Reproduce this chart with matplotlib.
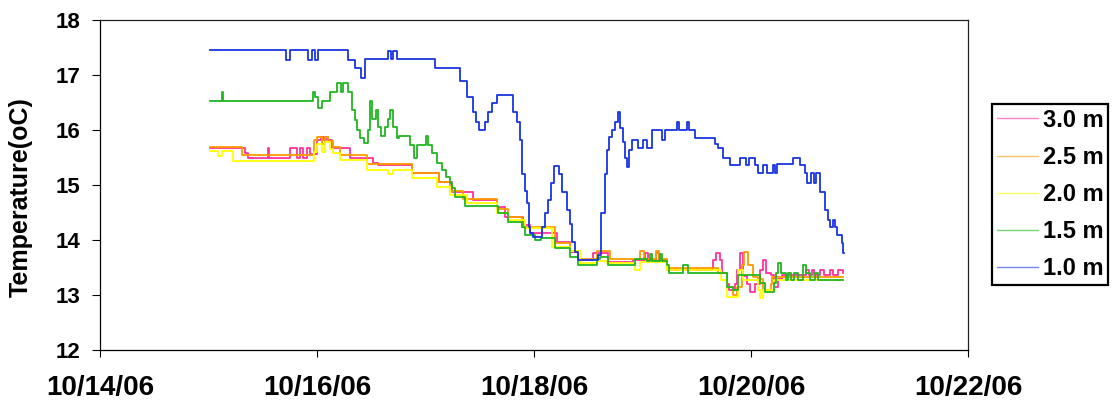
import datetime as dt
import matplotlib
matplotlib.use('Agg')
import matplotlib.pyplot as plt

plt.rcParams['font.family'] = ['Liberation Sans', 'DejaVu Sans']
plt.rcParams['font.weight'] = 'bold'

###############################################################################
# Data: time in days after 10/14/06 00:00, temperature in oC (step readings)
###############################################################################
BASE = dt.datetime(2006, 10, 14)

t_30 = [1.01, 1.34, 1.36, 1.55, 1.56, 1.75, 1.82, 1.84, 1.87, 1.91, 1.94, 2.00,
        2.04, 2.06, 2.08, 2.10, 2.14, 2.30, 2.52, 2.56, 2.88, 3.12, 3.24, 3.44,
        3.66, 3.73, 3.90, 3.96, 4.21, 4.33, 4.41, 4.54, 4.68, 4.91, 5.02, 5.05,
        5.12, 5.15, 5.23, 5.65, 5.68, 5.71, 5.73, 5.78, 5.80, 5.85, 5.87, 5.90,
        5.93, 5.96, 5.99, 6.04, 6.08, 6.11, 6.14, 6.18, 6.21, 6.25, 6.29, 6.51,
        6.53, 6.56, 6.58, 6.64, 6.67, 6.73, 6.76, 6.80, 6.85]
v_30 = [15.68, 15.58, 15.50, 15.68, 15.50, 15.68, 15.50, 15.68, 15.50, 15.68,
        15.56, 15.82, 15.87, 15.82, 15.87, 15.82, 15.67, 15.50, 15.40, 15.36,
        15.21, 15.05, 14.87, 14.73, 14.60, 14.42, 14.27, 14.13, 13.97, 13.79,
        13.64, 13.77, 13.60, 13.64, 13.77, 13.64, 13.77, 13.64, 13.45, 13.64,
        13.77, 13.64, 13.40, 13.20, 13.10, 13.20, 13.45, 13.76, 13.35, 13.20,
        13.05, 13.20, 13.45, 13.64, 13.40, 13.36, 13.15, 13.30, 13.36, 13.45,
        13.36, 13.45, 13.36, 13.45, 13.36, 13.45, 13.36, 13.45, 13.40]

t_25 = [1.01, 1.31, 1.97, 2.00, 2.05, 2.07, 2.10, 2.15, 2.21, 2.46, 2.88, 3.12,
        3.23, 3.35, 3.66, 3.76, 3.89, 4.19, 4.33, 4.41, 4.58, 4.70, 4.98, 5.01,
        5.12, 5.15, 5.23, 5.70, 5.78, 5.83, 5.87, 5.92, 5.94, 5.97, 6.02, 6.06,
        6.11, 6.18, 6.19, 6.85]
v_25 = [15.70, 15.55, 15.82, 15.87, 15.75, 15.87, 15.80, 15.70, 15.55, 15.39,
        15.21, 15.05, 14.90, 14.74, 14.57, 14.42, 14.24, 13.95, 13.80, 13.65,
        13.80, 13.65, 13.80, 13.65, 13.80, 13.65, 13.49, 13.40, 13.15, 13.00,
        13.15, 13.55, 13.78, 13.55, 13.33, 13.30, 13.10, 13.20, 13.33, 13.33]

t_20 = [1.01, 1.09, 1.12, 1.23, 1.97, 2.00, 2.05, 2.07, 2.12, 2.15, 2.21, 2.46,
        2.65, 2.70, 2.88, 3.11, 3.23, 3.38, 3.66, 3.76, 3.92, 4.17, 4.33, 4.42,
        4.58, 4.67, 4.93, 4.98, 5.23, 5.72, 5.78, 5.88, 5.93, 6.06, 6.08, 6.11,
        6.21, 6.85]
v_20 = [15.62, 15.52, 15.62, 15.44, 15.60, 15.75, 15.60, 15.78, 15.65, 15.58,
        15.45, 15.27, 15.20, 15.27, 15.12, 14.97, 14.82, 14.67, 14.49, 14.36,
        14.22, 13.88, 13.80, 13.58, 13.62, 13.58, 13.45, 13.60, 13.45, 13.27,
        12.97, 13.45, 13.27, 13.09, 12.95, 13.09, 13.27, 13.27]

t_15 = [1.01, 1.12, 1.13, 1.96, 1.98, 2.01, 2.05, 2.12, 2.18, 2.22, 2.24, 2.29,
        2.32, 2.35, 2.37, 2.40, 2.43, 2.47, 2.49, 2.51, 2.54, 2.56, 2.59, 2.63,
        2.65, 2.67, 2.70, 2.74, 2.76, 2.86, 2.89, 2.92, 3.00, 3.02, 3.06, 3.11,
        3.15, 3.19, 3.23, 3.24, 3.27, 3.36, 3.67, 3.76, 3.89, 3.92, 4.01, 4.06,
        4.19, 4.33, 4.41, 4.58, 4.61, 4.68, 4.93, 5.04, 5.07, 5.09, 5.16, 5.18,
        5.23, 5.24, 5.37, 5.42, 5.78, 5.83, 5.88, 6.08, 6.13, 6.21, 6.23, 6.25,
        6.28, 6.32, 6.34, 6.37, 6.40, 6.43, 6.48, 6.51, 6.54, 6.59, 6.62, 6.85]
v_15 = [16.53, 16.70, 16.53, 16.70, 16.60, 16.40, 16.53, 16.70, 16.85, 16.70,
        16.85, 16.70, 16.36, 16.18, 16.00, 15.85, 15.76, 16.00, 16.52, 16.20,
        16.36, 16.05, 15.90, 16.05, 16.20, 16.36, 16.05, 15.85, 15.90, 15.73,
        15.50, 15.73, 15.90, 15.73, 15.58, 15.40, 15.27, 15.15, 15.04, 14.95,
        14.78, 14.62, 14.50, 14.33, 14.24, 14.09, 14.00, 14.04, 13.85, 13.69,
        13.55, 13.65, 13.69, 13.55, 13.65, 13.62, 13.75, 13.62, 13.75, 13.62,
        13.55, 13.40, 13.55, 13.40, 13.15, 13.10, 13.36, 13.22, 13.06, 13.22,
        13.40, 13.58, 13.40, 13.27, 13.40, 13.27, 13.40, 13.27, 13.55, 13.40,
        13.27, 13.40, 13.27, 13.27]

t_10 = [1.01, 1.71, 1.75, 1.92, 1.95, 1.98, 2.01, 2.29, 2.35, 2.41, 2.44, 2.65,
        2.68, 2.70, 2.74, 3.09, 3.32, 3.38, 3.44, 3.47, 3.49, 3.55, 3.58, 3.61,
        3.66, 3.81, 3.84, 3.87, 3.89, 3.92, 3.94, 3.95, 3.96, 3.99, 4.07, 4.10,
        4.13, 4.16, 4.18, 4.23, 4.26, 4.30, 4.33, 4.35, 4.38, 4.41, 4.59, 4.62,
        4.65, 4.67, 4.69, 4.72, 4.75, 4.77, 4.79, 4.82, 4.84, 4.86, 4.88, 4.90,
        4.96, 5.00, 5.04, 5.09, 5.18, 5.21, 5.32, 5.34, 5.41, 5.43, 5.48, 5.67,
        5.70, 5.74, 5.81, 5.90, 5.95, 5.98, 6.04, 6.06, 6.11, 6.15, 6.20, 6.22,
        6.24, 6.39, 6.45, 6.50, 6.52, 6.55, 6.58, 6.60, 6.64, 6.68, 6.71, 6.73,
        6.76, 6.77, 6.79, 6.84, 6.85, 6.86]
v_10 = [17.45, 17.27, 17.45, 17.27, 17.45, 17.27, 17.45, 17.27, 17.13, 16.95,
        17.30, 17.44, 17.30, 17.44, 17.30, 17.13, 16.90, 16.60, 16.33, 16.15,
        16.00, 16.15, 16.33, 16.49, 16.64, 16.33, 16.15, 15.82, 15.20, 14.90,
        14.67, 14.24, 14.13, 14.05, 14.24, 14.50, 14.73, 15.04, 15.35, 15.20,
        14.87, 14.55, 14.30, 13.96, 13.78, 13.63, 13.73, 14.50, 15.20, 15.64,
        15.87, 16.00, 16.15, 16.33, 16.04, 15.78, 15.50, 15.33, 15.64, 15.82,
        15.67, 15.82, 15.67, 16.00, 15.82, 16.00, 16.15, 16.00, 16.15, 16.00,
        15.85, 15.74, 15.68, 15.49, 15.36, 15.49, 15.36, 15.49, 15.36, 15.21,
        15.36, 15.21, 15.36, 15.21, 15.39, 15.49, 15.36, 15.21, 15.03, 15.21,
        15.03, 15.21, 14.88, 14.55, 14.36, 14.24, 14.36, 14.24, 14.09, 13.95,
        13.76, 13.76]

SERIES = [
    ('3.0 m', t_30, v_30, '#ff3399'),
    ('2.5 m', t_25, v_25, '#ff9900'),
    ('2.0 m', t_20, v_20, '#ffff00'),
    ('1.5 m', t_15, v_15, '#22b522'),
    ('1.0 m', t_10, v_10, '#1a35e0'),
]
X_TICKS = [0, 2, 4, 6, 8]
Y_TICKS = [12, 13, 14, 15, 16, 17, 18]
###############################################################################
# Plot
###############################################################################
fig = plt.figure(figsize=(11.2, 4.03), dpi=100)
ax = fig.add_axes([100/1120, 53/403, 868/1120, 330/403])

for (lbl, t, v, col) in SERIES:
    ax.plot(t, v, drawstyle='steps-post', color=col, lw=1.3, label=lbl)

ax.set_xlim(0, 8)
ax.set_ylim(12, 18)
ax.set_xticks(X_TICKS)
ax.set_xticklabels([(BASE + dt.timedelta(days=d)).strftime('%m/%d/%y') for d in X_TICKS])
ax.set_yticks(Y_TICKS)
ax.tick_params(axis='y', direction='out', length=6, width=0.8, pad=8, labelsize=16)
ax.tick_params(axis='x', direction='out', length=5, width=0.8, pad=13, labelsize=20)
for sp in ax.spines.values():
    sp.set_linewidth(0.9)
    sp.set_color('#222222')
ax.spines['bottom'].set_color('black')
ax.spines['left'].set_color('black')

ax.set_ylabel('Temperature(oC)', fontsize=18, fontweight='bold')
ax.yaxis.set_label_coords(-0.077, 0.464)

leg = ax.legend(
    loc='upper left', bbox_to_anchor=(992/1120, 1-104/403),
    bbox_transform=fig.transFigure, borderaxespad=0,
    fancybox=False, frameon=True, edgecolor='black', framealpha=1,
    prop={'size': 17, 'weight': 'bold'},
    handlelength=1.75, handletextpad=0.2, labelspacing=0.6, borderpad=0.2
)
leg.get_frame().set_linewidth(1.6)
for h in leg.get_lines():
    h.set_linewidth(1.0)
    h.set_alpha(0.6)

fig.savefig('out.png', dpi=100, facecolor='white')
